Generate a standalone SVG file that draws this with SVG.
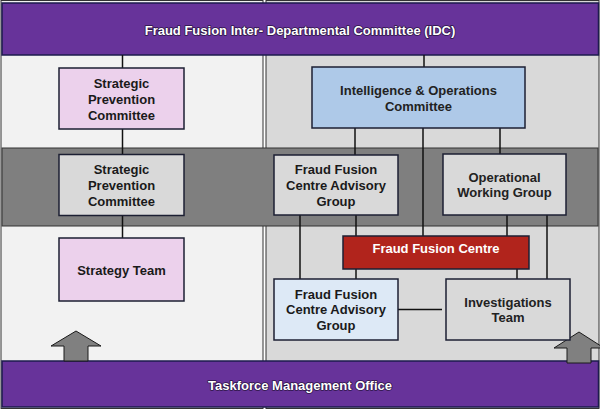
<svg xmlns="http://www.w3.org/2000/svg" width="600" height="409" viewBox="0 0 600 409">
<style>
.band{fill:#67339a;stroke:#1d1b4d;stroke-width:1.5}
.btxt{font-family:"Liberation Sans",Arial,sans-serif;font-size:13px;font-weight:bold;fill:#ffffff;text-anchor:middle;paint-order:stroke;stroke:#2c1546;stroke-width:1.6px;stroke-linejoin:round}
.box{stroke:#1c1f33;stroke-width:1.5}
.pink{fill:#ecd1ec}
.gray{fill:#d9d9d9}
.blue{fill:#aec9e8}
.lblue{fill:#dde9f6}
.red{fill:#b1241c}
.t{font-family:"Liberation Sans",Arial,sans-serif;font-size:13px;font-weight:bold;fill:#1a1a1a;text-anchor:middle}
.tr{font-family:"Liberation Sans",Arial,sans-serif;font-size:13px;font-weight:bold;fill:#222222;text-anchor:middle}
.tw{font-family:"Liberation Sans",Arial,sans-serif;font-size:13px;font-weight:bold;fill:#ffffff;text-anchor:middle}
.c{stroke:#111111;stroke-width:1.5;fill:none}
.arrow{fill:#808080;stroke:#1a1a1a;stroke-width:1}
</style>
<g id="background">
<rect x="1" y="0.5" width="262" height="408" fill="#f2f2f2" stroke="#333" stroke-width="1"/>
<rect x="266" y="0.5" width="333" height="408" fill="#d9d9d9" stroke="#333" stroke-width="1"/>
<rect x="2" y="148" width="596" height="78" fill="#7f7f7f" stroke="#333" stroke-width="1"/>
</g>
<g id="idc">
<rect class="band" x="2" y="3" width="596.5" height="52"/>
<text class="btxt" x="300" y="35">Fraud Fusion Inter- Departmental Committee (IDC)</text>
</g>
<g id="tmo">
<rect class="band" x="2" y="361" width="596.5" height="46"/>
<text class="btxt" x="300" y="389.5">Taskforce Management Office</text>
</g>
<g id="arrows">
<polygon class="arrow" points="76,331 101,346 88,346 88,361 64,361 64,346 51,346"/>
<polygon class="arrow" points="579,332 604,348 591,348 591,363 567,363 567,348 554,348"/>
</g>
<g id="connectors">
<line class="c" x1="122.5" y1="55" x2="122.5" y2="238"/>
<line class="c" x1="424" y1="55" x2="424" y2="67"/>
<line class="c" x1="355" y1="128" x2="355" y2="155"/>
<line class="c" x1="423" y1="128" x2="423" y2="236"/>
<line class="c" x1="500" y1="128" x2="500" y2="154"/>
<line class="c" x1="356" y1="215" x2="356" y2="279"/>
<line class="c" x1="300" y1="215" x2="300" y2="279"/>
<line class="c" x1="507" y1="215" x2="507" y2="236"/>
<line class="c" x1="547" y1="215" x2="547" y2="279"/>
<line class="c" x1="517" y1="269" x2="517" y2="279"/>
<line class="c" x1="398" y1="309.5" x2="442" y2="309.5"/>
</g>
<g id="spc-pink">
<rect class="box pink" x="59" y="68" width="125" height="61"/>
<text class="t" x="121.5" y="87.5">Strategic</text>
<text class="t" x="121.5" y="103.5">Prevention</text>
<text class="t" x="121.5" y="119.5">Committee</text>
</g>
<g id="spc-gray">
<rect class="box gray" x="59" y="154.5" width="125" height="61"/>
<text class="t" x="121.5" y="174.3">Strategic</text>
<text class="t" x="121.5" y="190">Prevention</text>
<text class="t" x="121.5" y="205.7">Committee</text>
</g>
<g id="strategy-team">
<rect class="box pink" x="59" y="238" width="125" height="63"/>
<text class="t" x="121.5" y="274.5">Strategy Team</text>
</g>
<g id="intel-ops">
<rect class="box blue" x="312" y="67" width="213" height="61"/>
<text class="tr" x="418.5" y="94.5">Intelligence &amp; Operations</text>
<text class="tr" x="418.5" y="110.5">Committee</text>
</g>
<g id="ffcag-1">
<rect class="box gray" x="274" y="155" width="124" height="60"/>
<text class="t" x="336" y="174.3">Fraud Fusion</text>
<text class="t" x="336" y="190">Centre Advisory</text>
<text class="t" x="336" y="205.5">Group</text>
</g>
<g id="owg">
<rect class="box gray" x="443" y="154" width="123" height="61"/>
<text class="tr" x="504.5" y="181.7">Operational</text>
<text class="tr" x="504.5" y="197.3">Working Group</text>
</g>
<g id="ffc">
<rect class="box red" x="343" y="236" width="186" height="33"/>
<text class="tw" x="436" y="253.3">Fraud Fusion Centre</text>
</g>
<g id="ffcag-2">
<rect class="box lblue" x="274" y="279" width="124" height="61"/>
<text class="t" x="336" y="298.7">Fraud Fusion</text>
<text class="t" x="336" y="314.3">Centre Advisory</text>
<text class="t" x="336" y="329.5">Group</text>
</g>
<g id="investigations">
<rect class="box gray" x="446" y="279" width="124" height="61"/>
<text class="tr" x="508" y="306.7">Investigations</text>
<text class="tr" x="508" y="321.7">Team</text>
</g>
</svg>
